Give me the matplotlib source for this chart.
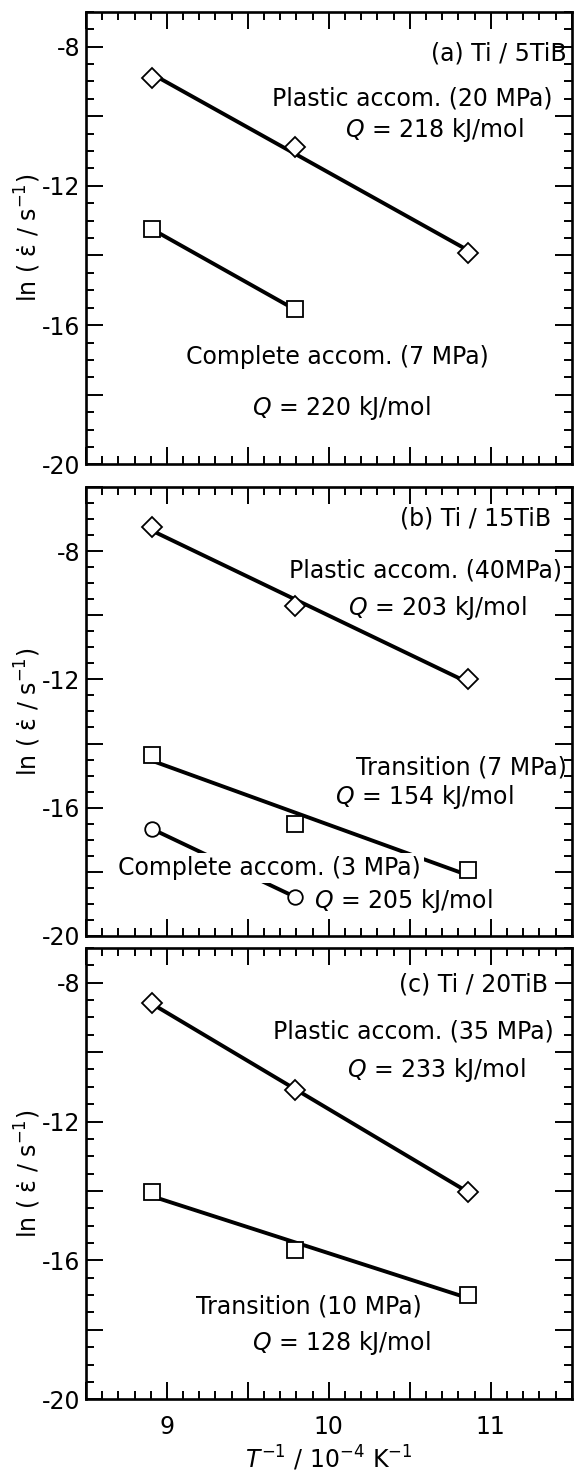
import numpy as np
import matplotlib
matplotlib.use("Agg")
from matplotlib import pyplot as plt
from matplotlib.ticker import MultipleLocator, FuncFormatter

plt.rcParams['font.family'] = ['DejaVu Sans']
plt.rcParams['axes.unicode_minus'] = False
plt.rcParams['mathtext.fontset'] = 'dejavusans'

# inverse temperature, 10^-4 K^-1
inv_temp = [8.91, 9.79, 10.86]

# ln(strain rate / s^-1)
a_plastic = [-8.90, -10.88, -13.94]
a_complete = [-13.25, -15.55]
b_plastic = [-7.25, -9.72, -12.00]
b_transition = [-14.35, -16.50, -17.95]
b_complete = [-16.67, -18.78]
c_plastic = [-8.60, -11.09, -14.02]
c_transition = [-14.04, -15.69, -16.99]

panel_titles = ["(a) Ti / 5TiB", "(b) Ti / 15TiB", "(c) Ti / 20TiB"]


def fit_series(ax, x, y, marker, ms):
    x = np.asarray(x)
    y = np.asarray(y)
    k, b = np.polyfit(x, y, 1)
    xs = np.array([x.min(), x.max()])
    ax.plot(xs, k * xs + b, color='black', linewidth=2.8, zorder=2)
    ax.plot(x, y, linestyle='none', marker=marker, markersize=ms,
            markerfacecolor='white', markeredgecolor='black',
            markeredgewidth=1.3, zorder=4)


def style_axes(ax, ylim):
    ax.set_xlim(8.5, 11.5)
    ax.set_ylim(*ylim)
    ax.xaxis.set_major_locator(MultipleLocator(0.5))
    ax.xaxis.set_minor_locator(MultipleLocator(0.1))
    ax.yaxis.set_major_locator(MultipleLocator(2))
    ax.yaxis.set_minor_locator(MultipleLocator(0.5))
    ax.xaxis.set_major_formatter(FuncFormatter(
        lambda v, p: f"{v:.0f}" if abs(v - round(v)) < 1e-6 else ""))
    ax.yaxis.set_major_formatter(FuncFormatter(
        lambda v, p: f"{v:.0f}" if abs(v % 4) < 1e-6 else ""))
    ax.tick_params(which='both', direction='in', top=True, right=True,
                   width=1.4, labelsize=17)
    ax.tick_params(which='major', length=12)
    ax.tick_params(which='minor', length=6)
    ax.tick_params(axis='y', pad=4)
    ax.tick_params(axis='x', pad=11)
    for s in ax.spines.values():
        s.set_linewidth(1.9)
    ax.set_ylabel('ln ( \u03b5\u0307 / s$^{-1}$)', fontsize=17)
    ax.yaxis.set_label_coords(-0.088, 0.5)


fig = plt.figure(figsize=(5.77, 14.76), dpi=100)
ax_a = fig.add_axes([0.149, 0.6854, 0.8418, 0.3066])
ax_b = fig.add_axes([0.149, 0.3659, 0.8418, 0.3042])
ax_c = fig.add_axes([0.149, 0.05197, 0.8418, 0.3058])

style_axes(ax_a, (-20, -7))
style_axes(ax_b, (-20, -6))
style_axes(ax_c, (-20, -7))
ax_a.tick_params(axis='x', labelbottom=False)
ax_b.tick_params(axis='x', labelbottom=False)

txt = dict(fontsize=17, ha='center', va='center')

# (a) Ti / 5TiB
fit_series(ax_a, inv_temp, a_plastic, 'D', 10)
fit_series(ax_a, inv_temp[:2], a_complete, 's', 12)
ax_a.text(11.47, -8.19, panel_titles[0], fontsize=17, ha='right', va='center')
ax_a.text(10.515, -9.49, 'Plastic accom. (20 MPa)', **txt)
ax_a.text(10.65, -10.40, r'$Q$ = 218 kJ/mol', **txt)
ax_a.text(10.05, -16.91, 'Complete accom. (7 MPa)', **txt)
ax_a.text(10.075, -18.39, r'$Q$ = 220 kJ/mol', **txt)

# (b) Ti / 15TiB
fit_series(ax_b, inv_temp, b_plastic, 'D', 10)
fit_series(ax_b, inv_temp, b_transition, 's', 12)
fit_series(ax_b, inv_temp[:2], b_complete, 'o', 10.5)
ax_b.text(11.37, -6.99, panel_titles[1], fontsize=17, ha='right', va='center')
ax_b.text(10.594, -8.60, 'Plastic accom. (40MPa)', **txt)
ax_b.text(10.67, -9.79, r'$Q$ = 203 kJ/mol', **txt)
ax_b.text(10.817, -14.76, 'Transition (7 MPa)', **txt)
ax_b.text(10.588, -15.67, r'$Q$ = 154 kJ/mol', **txt)
ax_b.text(9.634, -17.88, 'Complete accom. (3 MPa)', zorder=3,
          bbox=dict(boxstyle='square,pad=0.12', facecolor='white',
                    edgecolor='none'), **txt)
ax_b.text(10.458, -18.92, r'$Q$ = 205 kJ/mol', **txt)

# (c) Ti / 20TiB
fit_series(ax_c, inv_temp, c_plastic, 'D', 10)
fit_series(ax_c, inv_temp, c_transition, 's', 12)
ax_c.text(11.356, -8.06, panel_titles[2], fontsize=17, ha='right', va='center')
ax_c.text(10.52, -9.42, 'Plastic accom. (35 MPa)', **txt)
ax_c.text(10.662, -10.52, r'$Q$ = 233 kJ/mol', **txt)
ax_c.text(9.878, -17.33, 'Transition (10 MPa)', **txt)
ax_c.text(10.075, -18.39, r'$Q$ = 128 kJ/mol', **txt)

ax_c.set_xlabel(r'$T^{-1}$ / 10$^{-4}$ K$^{-1}$', fontsize=17, labelpad=4)

fig.savefig('out.png', dpi=100)
